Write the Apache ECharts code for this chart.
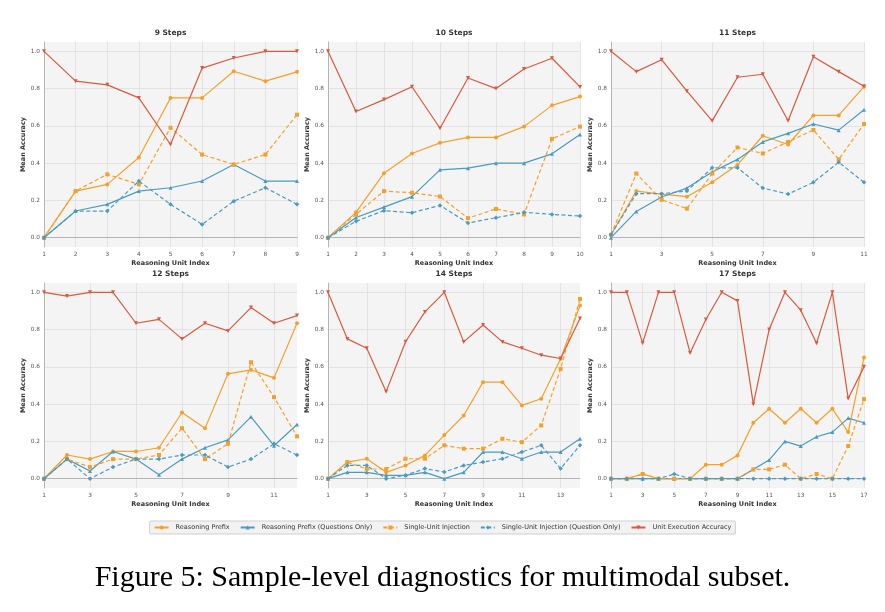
<!DOCTYPE html>
<html>
<head>
<meta charset="utf-8">
<script src="https://cdn.jsdelivr.net/npm/echarts@6/dist/echarts.min.js"></script>
<style>
  html, body { margin: 0; padding: 0; background: #fff; }
  #chart { width: 885px; height: 612px; }
</style>
</head>
<body>
<div id="chart"></div>
<script>
// panel titles / step counts
const steps = [9, 10, 11, 12, 14, 17];
const seriesNames = [
  'Reasoning Prefix',
  'Reasoning Prefix (Questions Only)',
  'Single-Unit Injection',
  'Single-Unit Injection (Question Only)',
  'Unit Execution Accuracy'
];

// x tick labels per panel
const ticks9 = [1, 2, 3, 4, 5, 6, 7, 8, 9];
const ticks10 = [1, 2, 3, 4, 5, 6, 7, 8, 9, 10];
const ticks11 = [1, 3, 5, 7, 9, 11];
const ticks12 = [1, 3, 5, 7, 9, 11];
const ticks14 = [1, 3, 5, 7, 9, 11, 13];
const ticks17 = [1, 3, 5, 7, 9, 11, 13, 15, 17];
const yTicks = [0.0, 0.2, 0.4, 0.6, 0.8, 1.0];

// 9 steps
const rp9   = [0, 0.25, 0.286, 0.43, 0.75, 0.75, 0.893, 0.84, 0.89];
const rpq9  = [0, 0.143, 0.179, 0.25, 0.268, 0.304, 0.393, 0.304, 0.304];
const sui9  = [0, 0.25, 0.34, 0.286, 0.59, 0.446, 0.393, 0.446, 0.66];
const suiq9 = [0, 0.143, 0.143, 0.304, 0.179, 0.071, 0.196, 0.268, 0.179];
const uea9  = [1.0, 0.84, 0.82, 0.75, 0.5, 0.91, 0.964, 1.0, 1.0];

// 10 steps
const rp10   = [0, 0.136, 0.346, 0.452, 0.509, 0.538, 0.538, 0.596, 0.71, 0.757];
const rpq10  = [0, 0.108, 0.164, 0.22, 0.364, 0.373, 0.40, 0.40, 0.45, 0.554];
const sui10  = [0, 0.125, 0.25, 0.241, 0.221, 0.105, 0.154, 0.125, 0.53, 0.596];
const suiq10 = [0, 0.088, 0.145, 0.134, 0.173, 0.079, 0.107, 0.136, 0.125, 0.116];
const uea10  = [1.0, 0.677, 0.741, 0.81, 0.587, 0.857, 0.80, 0.905, 0.963, 0.809];

// 11 steps
const rp11   = [0.016, 0.25, 0.234, 0.22, 0.297, 0.391, 0.547, 0.50, 0.656, 0.656, 0.81];
const rpq11  = [0, 0.141, 0.218, 0.266, 0.352, 0.42, 0.514, 0.56, 0.61, 0.577, 0.686];
const sui11  = [0.016, 0.344, 0.203, 0.156, 0.344, 0.484, 0.452, 0.514, 0.578, 0.42, 0.61];
const suiq11 = [0.016, 0.236, 0.236, 0.25, 0.375, 0.375, 0.266, 0.234, 0.297, 0.405, 0.297];
const uea11  = [1.0, 0.891, 0.955, 0.786, 0.627, 0.861, 0.877, 0.627, 0.971, 0.891, 0.8125];

// 12 steps
const rp12   = [0, 0.127, 0.105, 0.146, 0.146, 0.166, 0.355, 0.27, 0.5625, 0.584, 0.541, 0.834];
const rpq12  = [0, 0.105, 0.041, 0.146, 0.105, 0.021, 0.105, 0.166, 0.208, 0.332, 0.177, 0.291];
const sui12  = [0, 0.105, 0.0625, 0.105, 0.105, 0.127, 0.271, 0.105, 0.1875, 0.625, 0.4375, 0.227];
const suiq12 = [0, 0.105, 0, 0.0625, 0.105, 0.105, 0.127, 0.127, 0.0625, 0.105, 0.1875, 0.127];
const uea12  = [1.0, 0.98, 1.0, 1.0, 0.834, 0.855, 0.75, 0.834, 0.793, 0.918, 0.834, 0.875];

// 14 steps
const rp14   = [0, 0.089, 0.107, 0.034, 0.071, 0.125, 0.234, 0.339, 0.518, 0.518, 0.393, 0.429, 0.643, 0.929];
const rpq14  = [0, 0.034, 0.034, 0.018, 0.018, 0.034, 0, 0.034, 0.143, 0.143, 0.107, 0.143, 0.143, 0.214];
const sui14  = [0, 0.089, 0.052, 0.052, 0.107, 0.107, 0.179, 0.161, 0.161, 0.214, 0.196, 0.286, 0.589, 0.964];
const suiq14 = [0, 0.071, 0.071, 0, 0.018, 0.054, 0.036, 0.071, 0.089, 0.107, 0.143, 0.179, 0.054, 0.179];
const uea14  = [1.0, 0.75, 0.70, 0.467, 0.735, 0.895, 1.0, 0.734, 0.825, 0.734, 0.70, 0.6625, 0.645, 0.859];

// 17 steps
const rp17   = [0, 0, 0.025, 0, 0, 0, 0.075, 0.075, 0.125, 0.30, 0.375, 0.30, 0.375, 0.30, 0.375, 0.25, 0.65];
const rpq17  = [0, 0, 0, 0, 0, 0, 0, 0, 0, 0.05, 0.10, 0.20, 0.175, 0.225, 0.25, 0.325, 0.30];
const sui17  = [0, 0, 0.025, 0, 0, 0, 0, 0, 0, 0.05, 0.05, 0.075, 0, 0.025, 0, 0.175, 0.427];
const suiq17 = [0, 0, 0, 0, 0.025, 0, 0, 0, 0, 0, 0, 0, 0, 0, 0, 0, 0];
const uea17  = [1.0, 1.0, 0.727, 1.0, 1.0, 0.675, 0.854, 1.0, 0.954, 0.40, 0.80, 1.0, 0.904, 0.727, 1.0, 0.43, 0.60];

const panels = [
  { ticks: ticks9,  data: [rp9, rpq9, sui9, suiq9, uea9] },
  { ticks: ticks10, data: [rp10, rpq10, sui10, suiq10, uea10] },
  { ticks: ticks11, data: [rp11, rpq11, sui11, suiq11, uea11] },
  { ticks: ticks12, data: [rp12, rpq12, sui12, suiq12, uea12] },
  { ticks: ticks14, data: [rp14, rpq14, sui14, suiq14, uea14] },
  { ticks: ticks17, data: [rp17, rpq17, sui17, suiq17, uea17] }
];

const ORANGE = '#f5a02a';
const BLUE = '#4a9bc2';
const RED = '#d95a3e';
const styles = [
  { color: ORANGE, type: 'solid', symbol: 'circle', size: 4, rotate: 0 },
  { color: BLUE, type: 'solid', symbol: 'triangle', size: 4, rotate: 0 },
  { color: ORANGE, type: [4, 2.5], symbol: 'rect', size: 4, rotate: 0 },
  { color: BLUE, type: [4, 2.5], symbol: 'diamond', size: 4.5, rotate: 0 },
  { color: RED, type: 'solid', symbol: 'triangle', size: 4, rotate: 180 }
];

const colLeft = [44, 328, 611];
const colWidth = [253, 252, 253];
const rowTop = [42, 283];
const plotH = 205;
const FONT = 'DejaVu Sans';

const chart = echarts.init(document.getElementById('chart'), null, { renderer: 'canvas' });

const grids = [], xAxes = [], yAxes = [], series = [], titles = [];
panels.forEach((p, i) => {
  const col = i % 3, row = Math.floor(i / 3);
  const n = p.data[0].length;
  grids.push({
    left: colLeft[col], top: rowTop[row], width: colWidth[col], height: plotH,
    show: true, backgroundColor: '#f4f4f4', borderWidth: 0
  });
  titles.push({
    text: steps[i] + ' Steps',
    left: colLeft[col] + colWidth[col] / 2, top: rowTop[row] - 13,
    textAlign: 'center', padding: 0,
    textStyle: { fontFamily: FONT, fontSize: 7.5, fontWeight: 'bold', color: '#333' }
  });
  xAxes.push({
    type: 'value', gridIndex: i, min: 1, max: n,
    name: 'Reasoning Unit Index', nameLocation: 'middle', nameGap: 13,
    nameTextStyle: { fontFamily: FONT, fontSize: 6.5, fontWeight: 'bold', color: '#333' },
    axisLine: { show: true, lineStyle: { color: '#b5b5b5', width: 1 } },
    axisTick: { show: false, customValues: p.ticks },
    axisLabel: { customValues: p.ticks, fontFamily: FONT, fontSize: 5.8, color: '#555', margin: 4,
      showMinLabel: true, showMaxLabel: true },
    splitLine: { show: true, lineStyle: { color: '#dedede', width: 0.8 } }
  });
  yAxes.push({
    type: 'value', gridIndex: i, min: -0.05, max: 1.05,
    name: 'Mean Accuracy', nameLocation: 'middle', nameGap: 15,
    nameTextStyle: { fontFamily: FONT, fontSize: 6.5, fontWeight: 'bold', color: '#333' },
    axisLine: { show: true, lineStyle: { color: '#b5b5b5', width: 1 } },
    axisTick: { show: false, customValues: yTicks },
    axisLabel: { customValues: yTicks, fontFamily: FONT, fontSize: 5.8, color: '#555', margin: 4,
      formatter: v => v.toFixed(1) },
    splitLine: { show: true, lineStyle: { color: '#dedede', width: 0.8 } }
  });
  p.data.forEach((vals, k) => {
    const s = styles[k];
    series.push({
      name: seriesNames[k],
      type: 'line',
      xAxisIndex: i, yAxisIndex: i,
      data: vals.map((v, j) => [j + 1, v]),
      symbol: s.symbol, symbolSize: s.size, symbolRotate: s.rotate,
      showAllSymbol: true,
      itemStyle: { color: s.color },
      lineStyle: { color: s.color, width: 1.2, type: s.type },
      z: 2 + k,
      animation: false
    });
  });
});

titles.push({
  text: 'Figure 5: Sample-level diagnostics for multimodal subset.',
  left: 'center', top: 563, padding: 0,
  textStyle: { fontFamily: 'Liberation Serif', fontSize: 30, fontWeight: 'normal', color: '#000' }
});

chart.setOption({
  animation: false,
  backgroundColor: '#fff',
  title: titles,
  grid: grids,
  xAxis: xAxes,
  yAxis: yAxes,
  legend: {
    data: seriesNames,
    left: 'center', top: 521,
    backgroundColor: '#f2f2f2', borderColor: '#cfcfcf', borderWidth: 1, borderRadius: 1,
    padding: [3, 4],
    itemWidth: 14, itemHeight: 5, itemGap: 10,
    textStyle: { fontFamily: FONT, fontSize: 6.5, color: '#333', padding: [0, 0, 0, 2] }
  },
  series: series
});
</script>
</body>
</html>
